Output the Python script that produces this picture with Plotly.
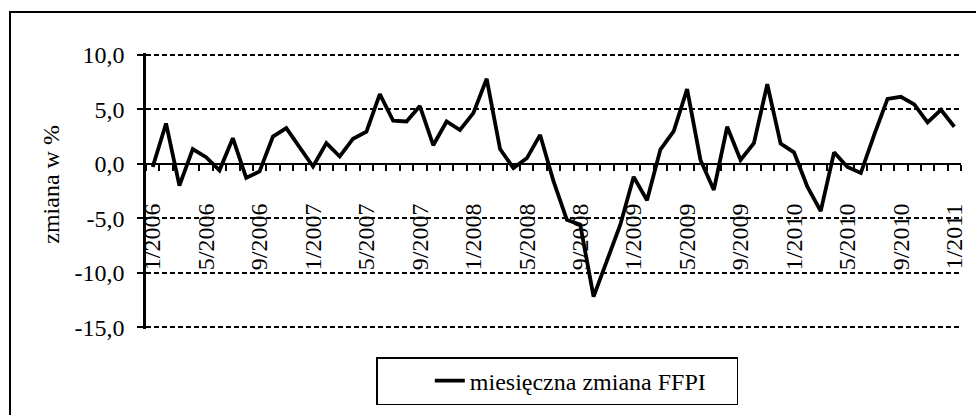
import plotly.graph_objects as go

# ---- data ----
months = [f"{m}/{y}" for y in range(2006, 2011) for m in range(1, 13)] + ["1/2011"]
ffpi_change = [
    -0.3, 3.7, -2.0, 1.35, 0.6, -0.6, 2.35, -1.3, -0.7, 2.5, 3.27, 1.5,
    -0.25, 1.9, 0.67, 2.3, 2.95, 6.4, 3.95, 3.88, 5.3, 1.7, 3.88, 3.1,
    4.65, 7.8, 1.35, -0.4, 0.5, 2.65, -1.6, -5.15, -5.6, -12.2, -8.9, -5.6,
    -1.2, -3.35, 1.3, 3.0, 6.85, 0.35, -2.4, 3.4, 0.35, 1.9, 7.3, 1.85,
    1.05, -2.1, -4.35, 1.05, -0.3, -0.85, 2.65, 5.95, 6.15, 5.45, 3.8, 4.95,
    3.4,
]
y_ticks = [10, 5, 0, -5, -10, -15]
y_tick_labels = ["10,0", "5,0", "0,0", "-5,0", "-10,0", "-15,0"]
series_name = "miesięczna zmiana FFPI"
y_title = "zmiana w %"

n = len(months)
xpos = list(range(n))
label_idx = list(range(0, n, 4))
label_vals = label_idx
label_text = [months[i] for i in label_idx]
boundaries = [i - 0.5 for i in range(n + 1)]

FONT = "Liberation Serif, Times New Roman, serif"
ymin, ymax = -15, 10
pad = 0.17
zero_pos = (0 - (ymin - pad)) / ((ymax + pad) - (ymin - pad))

fig = go.Figure()
fig.add_trace(go.Scatter(
    x=xpos, y=ffpi_change, mode="lines", name=series_name,
    line=dict(color="black", width=3.8), xaxis="x", yaxis="y",
))
# invisible trace on second x axis (tick-mark axis) so it renders
fig.add_trace(go.Scatter(
    x=[xpos[0]], y=[ffpi_change[0]], mode="lines", showlegend=False,
    hoverinfo="skip", line=dict(color="rgba(0,0,0,0)"), xaxis="x2", yaxis="y",
))

fig.update_layout(
    width=976, height=415,
    margin=dict(l=146, r=9, t=53, b=86),
    paper_bgcolor="white", plot_bgcolor="white",
    font=dict(family=FONT, size=24, color="black"),
    showlegend=True,
    legend=dict(
        x=(378 - 146) / 821, y=(329 - 357) / 276, xanchor="left", yanchor="top",
        orientation="h", bordercolor="black", borderwidth=1.5,
        bgcolor="white", font=dict(family=FONT, size=24, color="black"),
        indentation=52, entrywidth=262, entrywidthmode="pixels",
    ),
    xaxis=dict(
        range=[-0.5, n - 0.5], anchor="free", position=zero_pos,
        tickmode="array", tickvals=label_vals, ticktext=label_text,
        tickangle=-90, ticks="", showline=False, showgrid=False, zeroline=False,
        ticklabelstandoff=34,
        tickfont=dict(family=FONT, size=24, color="black"),
    ),
    xaxis2=dict(
        range=[-0.5, n - 0.5], overlaying="x", anchor="free", position=zero_pos,
        side="bottom",
        tickmode="array", tickvals=boundaries, showticklabels=False,
        ticks="outside", ticklen=6, tickwidth=1.5, tickcolor="black",
        showline=True, linecolor="black", linewidth=2,
        showgrid=False, zeroline=False,
    ),
    yaxis=dict(
        range=[ymin - pad, ymax + pad], tickmode="array", tickvals=y_ticks,
        ticktext=y_tick_labels,
        ticks="outside", ticklen=6, tickwidth=1.5, tickcolor="black",
        showline=True, linecolor="black", linewidth=2.5,
        showgrid=True, gridcolor="black", gridwidth=1.5, griddash="5px,3px",
        zeroline=False, ticklabelstandoff=8,
        tickfont=dict(family=FONT, size=24, color="black"),
    ),
    annotations=[dict(
        text=y_title, textangle=-90, xref="paper", yref="paper",
        x=(50 - 146) / 821, y=(329 - 184) / 276, xanchor="center", yanchor="middle",
        showarrow=False, font=dict(family=FONT, size=24, color="black"),
    )],
    shapes=[dict(
        type="rect", xref="paper", yref="paper", layer="below",
        x0=(9 - 146) / 821, x1=(985 - 146) / 821,
        y0=(329 - 425) / 276, y1=(329 - 12) / 276,
        line=dict(color="black", width=2), fillcolor="rgba(0,0,0,0)",
    )],
)

fig.write_html(
    "out.html",
    config={"displayModeBar": False},
    post_script="document.body.style.margin='0';",
)
